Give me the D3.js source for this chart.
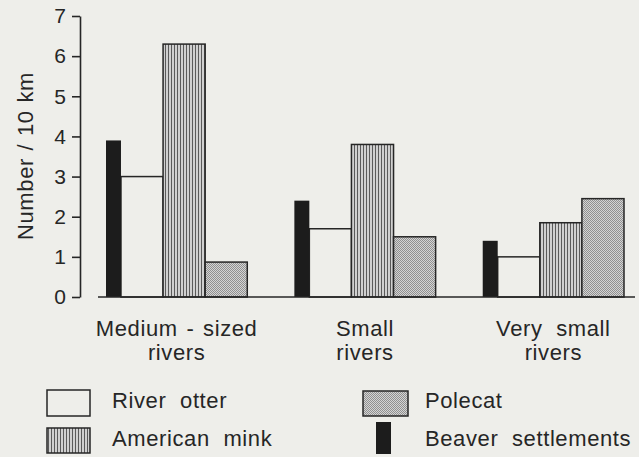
<!DOCTYPE html>
<html><head><meta charset="utf-8">
<script src="https://cdn.jsdelivr.net/npm/d3@7"></script>
<style>
html,body{margin:0;padding:0;background:#eeeeea;}
svg text{font-family:"Liberation Sans",Arial,sans-serif;fill:#262626;}
</style></head>
<body><svg id="c" width="639" height="457"></svg>
<script>
const categories = [["Medium - sized","rivers"],["Small","rivers"],["Very small","rivers"]];
const beaver  = [3.9, 2.4, 1.4];
const otter   = [3.0, 1.7, 1.0];
const mink    = [6.3, 3.8, 1.85];
const polecat = [0.87, 1.5, 2.45];
const yTicks  = [0,1,2,3,4,5,6,7];
const yTitle  = "Number / 10 km";
const legendLabels = ["River otter","American mink","Polecat","Beaver settlements"];

const W=639,H=457, bg="#eeeeea", ink="#262626";
const svg=d3.select("#c");
svg.append("rect").attr("width",W).attr("height",H).attr("fill",bg);
const defs=svg.append("defs");
const pm=defs.append("pattern").attr("id","mink").attr("patternUnits","userSpaceOnUse").attr("width",3).attr("height",6);
pm.append("rect").attr("width",3).attr("height",6).attr("fill","#d0d0d0");
pm.append("rect").attr("x",0).attr("width",1).attr("height",6).attr("fill","#5a5a5a");
const pp=defs.append("pattern").attr("id","pole").attr("patternUnits","userSpaceOnUse").attr("width",2).attr("height",2);
pp.append("rect").attr("width",2).attr("height",2).attr("fill","#d4d4d4");
pp.append("rect").attr("width",1).attr("height",1).attr("fill","#909090");
pp.append("rect").attr("x",1).attr("y",1).attr("width",1).attr("height",1).attr("fill","#909090");

const y=d3.scaleLinear().domain([0,7]).range([297,16]);
const idx=d3.range(categories.length);
const x0=d3.scaleBand().domain(idx).range([106,624]).paddingInner(0.25).paddingOuter(0);
const bw=x0.bandwidth();
const beaverW=bw*0.106;
const x1=d3.scaleBand().domain(["otter","mink","polecat"]).range([beaverW,bw]);

function styleText(t,size,ls,ws){return t.attr("font-size",size).style("letter-spacing",ls+"px").style("word-spacing",ws+"px");}

// bars
const g=svg.append("g");
const wide=[{key:"otter",vals:otter,fill:bg},{key:"mink",vals:mink,fill:"url(#mink)"},{key:"polecat",vals:polecat,fill:"url(#pole)"}];
wide.forEach(s=>{
  g.selectAll(null).data(idx).enter().append("rect")
   .attr("x",i=>x0(i)+x1(s.key)).attr("width",x1.bandwidth())
   .attr("y",i=>y(s.vals[i])).attr("height",i=>y(0)-y(s.vals[i]))
   .attr("fill",s.fill).attr("stroke",ink).attr("stroke-width",1.5);
});
g.selectAll(null).data(idx).enter().append("rect")
  .attr("x",i=>x0(i)).attr("width",beaverW)
  .attr("y",i=>y(beaver[i])).attr("height",i=>y(0)-y(beaver[i]))
  .attr("fill","#1c1c1c");

// x baseline
svg.append("line").attr("x1",x0.range()[0]-8).attr("x2",x0.range()[1]+11)
  .attr("y1",y(0)).attr("y2",y(0)).attr("stroke",ink).attr("stroke-width",1.6);

// y axis
const ya=svg.append("g").attr("transform","translate(80,0)")
  .call(d3.axisLeft(y).tickValues(yTicks).tickFormat(d3.format("d")).tickSize(8).tickSizeOuter(0).tickPadding(6));
ya.select(".domain").attr("stroke",ink).attr("stroke-width",1.6);
ya.selectAll(".tick line").attr("stroke",ink).attr("stroke-width",1.6);
styleText(ya.selectAll(".tick text").attr("fill",ink),21,0,0);

// y title
styleText(svg.append("text").attr("transform","translate(33,156) rotate(-90)")
  .attr("text-anchor","middle").text(yTitle),22,0.6,1);

// category labels
idx.forEach(i=>{
  const cx=x0(i)+bw/2;
  categories[i].forEach((line,j)=>{
    styleText(svg.append("text").attr("x",cx).attr("y",336+j*24).attr("text-anchor","middle").text(line),
      22,0.6,line.includes("-")?2:7);
  });
});

// legend
const leg=[
  {label:legendLabels[0],x:47,y:390,w:43,h:26,fill:bg,stroke:true,tx:112,ty:408},
  {label:legendLabels[1],x:47,y:428,w:43,h:25,fill:"url(#mink)",stroke:true,tx:112,ty:446},
  {label:legendLabels[2],x:363,y:391,w:45,h:25,fill:"url(#pole)",stroke:true,tx:425,ty:408},
  {label:legendLabels[3],x:376,y:422,w:15,h:32,fill:"#1c1c1c",stroke:false,tx:425,ty:446}
];
leg.forEach(d=>{
  svg.append("rect").attr("x",d.x).attr("y",d.y).attr("width",d.w).attr("height",d.h)
    .attr("fill",d.fill).attr("stroke",d.stroke?ink:"none").attr("stroke-width",1.5);
  styleText(svg.append("text").attr("x",d.tx).attr("y",d.ty).text(d.label),22,0.6,7);
});
</script></body></html>
